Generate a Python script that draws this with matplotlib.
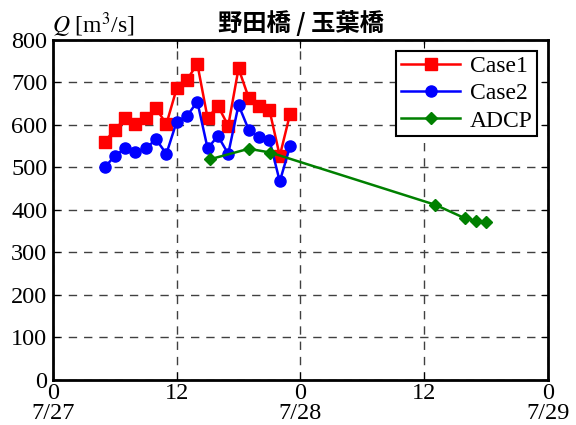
import matplotlib
matplotlib.use("Agg")
import matplotlib.pyplot as plt
import matplotlib.transforms as mtransforms

plt.rcParams['font.family'] = ['Liberation Serif', 'DejaVu Serif']
plt.rcParams['mathtext.fontset'] = 'stix'

# hours from 7/27 0:00
case1_t = [5, 6, 7, 8, 9, 10, 11, 12, 13, 14, 15, 16, 17, 18, 19, 20, 21, 22, 23]
case1_q = [561, 588, 616, 602, 616, 639, 602, 686, 706, 744, 616, 645, 598, 733, 663, 645, 635, 527, 626]
case2_t = case1_t
case2_q = [500, 527, 545, 537, 545, 566, 532, 608, 621, 655, 545, 574, 532, 647, 588, 571, 565, 467, 550]
adcp_t = [15.2, 19.0, 21.1, 37.1, 40.0, 41.0, 42.0]
adcp_q = [519, 544, 535, 412, 380, 375, 371]

xticks = [0, 12, 24, 36, 48]
xticklabels = ['0', '12', '0', '12', '0']
date_t = [0, 24, 48]
date_labels = ['7/27', '7/28', '7/29']
yticks = list(range(0, 801, 100))

fig = plt.figure(figsize=(5.76, 4.25), dpi=100)
ax = fig.add_axes([0.092, 0.106, 0.859, 0.8])

ax.plot(case1_t, case1_q, '-s', color='red', markersize=8, lw=1.8, label='Case1')
ax.plot(case2_t, case2_q, '-o', color='blue', markersize=8, lw=1.8, label='Case2')
ax.plot(adcp_t, adcp_q, '-D', color='green', markersize=6.5, lw=1.8, label='ADCP')

ax.set_xlim(0, 48)
ax.set_ylim(0, 800)
ax.set_xticks(xticks)
ax.set_xticklabels(xticklabels, fontsize=17.5)
ax.set_yticks(yticks)
ax.tick_params(axis='y', labelsize=17.5, direction='in', length=5, right=True, pad=4)
ax.tick_params(axis='x', direction='in', length=6, top=True, pad=2)
ax.grid(True, color='#404040', linestyle=(0, (6, 5)), lw=1)
for s in ax.spines.values():
    s.set_linewidth(2)

# date row under the hour labels
trans = mtransforms.blended_transform_factory(ax.transData, fig.transFigure)
for t, lab in zip(date_t, date_labels):
    ax.text(t, 0.027, lab, transform=trans, fontsize=17.5, ha='center', va='center',
            clip_on=False)

leg = ax.legend(loc='upper right', fontsize=17, fancybox=False, edgecolor='black',
                framealpha=1, handlelength=2.5, borderpad=0.2, labelspacing=0.25,
                handletextpad=0.4, borderaxespad=0.45)
leg.get_frame().set_linewidth(1.5)

fig.text(0.09, 0.94, r'$Q$ [m$^3$/s]', fontsize=17, ha='left', va='center')
fig.text(0.522, 0.945, '野田橋 / 玉葉橋', fontsize=17.5, fontweight='bold',
         family=['Noto Sans CJK JP', 'DejaVu Sans'], ha='center', va='center')

fig.savefig('out.png', dpi=100)
